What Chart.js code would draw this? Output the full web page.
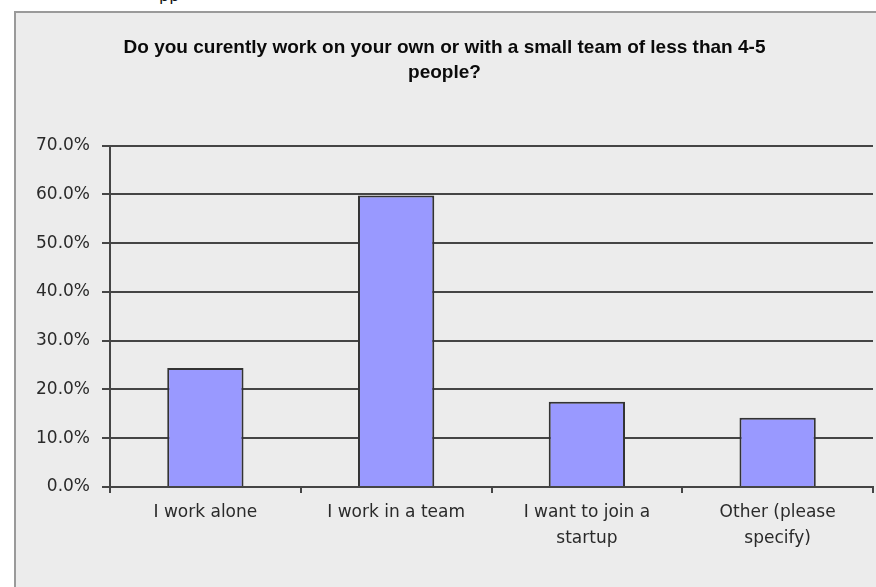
<!DOCTYPE html>
<html>
<head>
<meta charset="utf-8">
<script src="https://cdn.jsdelivr.net/npm/chart.js@4.4.0/dist/chart.umd.min.js"></script>
<style>
  body { margin: 0; background: #fff; width: 876px; height: 587px; overflow: hidden; position: relative; }
  #cut { position: absolute; left: 159px; top: -14px; font: 16px "DejaVu Sans", sans-serif; color: #111; }
  #box { position: absolute; left: 14px; top: 11px; width: 862px; height: 576px;
         border-left: 2px solid #9a9a9a; border-top: 2px solid #9a9a9a; background: #ececec; }
  #chart { display: block; }
</style>
</head>
<body>
<div id="cut">pp</div>
<div id="box">
  <canvas id="chart" width="860" height="574"></canvas>
</div>
<script>
// survey answers
var answers = ["I work alone", "I work in a team", ["I want to join a", "startup"], ["Other (please", "specify)"]];
var percents = [24.4, 59.8, 17.5, 14.2];
var yTicks = [0, 10, 20, 30, 40, 50, 60, 70];
var titleLines = ["Do you curently work on your own or with a small team of less than 4-5", "people?"];

var gridColor = '#454545';

var chartObject = {
    type: 'bar',
    data: {
        labels: answers,
        datasets: [{
            data: percents,
            backgroundColor: '#9999ff',
            borderColor: '#333333',
            borderWidth: 2,
            categoryPercentage: 0.8,
            barPercentage: 0.5
        }]
    },
    options: {
        responsive: false,
        animation: false,
        layout: { padding: { left: 0, right: 3, top: 0, bottom: 0 } },
        plugins: {
            legend: { display: false },
            tooltip: { enabled: false },
            title: {
                display: true,
                text: titleLines,
                color: '#0a0a0a',
                font: { family: 'Liberation Sans', size: 19, weight: 'bold', lineHeight: 1.28 },
                padding: { top: 23, bottom: 61 }
            }
        },
        scales: {
            x: {
                offset: true,
                grid: { display: true, drawOnChartArea: false, offset: true, tickLength: 6, color: gridColor, lineWidth: 2 },
                border: { display: true, color: gridColor, width: 2 },
                ticks: {
                    color: '#2a2a2a',
                    padding: 7,
                    maxRotation: 0,
                    font: { family: 'DejaVu Sans', size: 17, lineHeight: 1.5 }
                },
                afterFit: function (scale) { scale.height = 100; }
            },
            y: {
                min: 0,
                max: 70,
                afterBuildTicks: function (scale) {
                    scale.ticks = yTicks.map(function (v) { return { value: v }; });
                },
                grid: { color: gridColor, lineWidth: 2, tickLength: 8 },
                border: { display: true, color: gridColor, width: 2 },
                ticks: {
                    color: '#2a2a2a',
                    padding: 12,
                    font: { family: 'DejaVu Sans', size: 17 },
                    callback: function (v) { return v.toFixed(1) + '%'; }
                },
                afterFit: function (scale) { scale.width = 94; }
            }
        }
    }
};

var surveyChart = new Chart(document.getElementById('chart'), chartObject);
</script>
</body>
</html>
